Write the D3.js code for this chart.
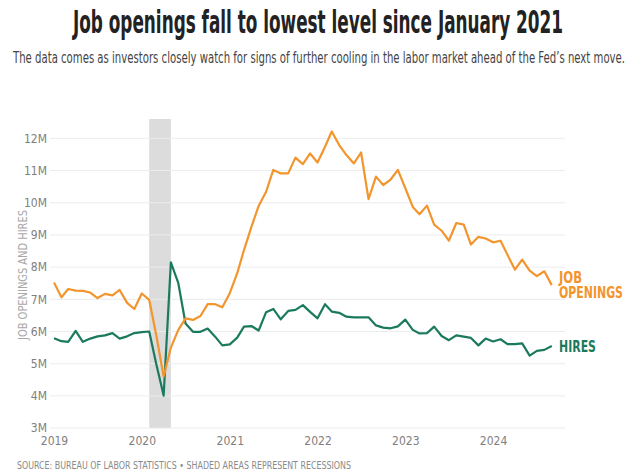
<!DOCTYPE html>
<html>
<head>
<meta charset="utf-8">
<script src="https://cdn.jsdelivr.net/npm/d3@7"></script>
<style>
  html, body { margin: 0; padding: 0; background: #fff; }
  svg { display: block; }
  .narrow { font-family: "Liberation Sans Narrow", "DejaVu Sans Condensed", "Roboto", sans-serif; }
</style>
</head>
<body>
<svg id="chart" width="637" height="474"></svg>
<script>
// Monthly JOLTS series, Jan 2019 – Sep 2024, millions
const startMonth = "2019-01";
const jobOpenings = [
  7.52, 7.06, 7.32, 7.27, 7.26, 7.21, 7.04, 7.17, 7.12, 7.29, 6.89, 6.70,
  7.18, 6.98, 5.90, 4.60, 5.50, 6.05, 6.41, 6.36, 6.48, 6.85, 6.85, 6.75,
  7.19, 7.81, 8.53, 9.25, 9.90, 10.34, 11.02, 10.91, 10.91, 11.40, 11.20, 11.53,
  11.25, 11.74, 12.21, 11.79, 11.48, 11.22, 11.56, 10.11, 10.81, 10.55, 10.72, 11.02,
  10.45, 9.87, 9.64, 9.91, 9.32, 9.13, 8.82, 9.37, 9.32, 8.70, 8.94, 8.89,
  8.77, 8.82, 8.38, 7.92, 8.23, 7.89, 7.72, 7.87, 7.44
];
const hires = [
  5.79, 5.70, 5.68, 6.02, 5.68, 5.78, 5.85, 5.88, 5.95, 5.78, 5.85, 5.95,
  5.98, 6.00, 5.00, 4.01, 8.15, 7.50, 6.25, 5.99, 5.99, 6.09, 5.84, 5.57,
  5.60, 5.81, 6.15, 6.17, 6.03, 6.60, 6.70, 6.38, 6.64, 6.67, 6.82, 6.61,
  6.41, 6.85, 6.62, 6.58, 6.46, 6.44, 6.44, 6.44, 6.19, 6.12, 6.10, 6.16,
  6.37, 6.05, 5.94, 5.95, 6.15, 5.86, 5.73, 5.88, 5.84, 5.80, 5.57, 5.78,
  5.69, 5.76, 5.61, 5.61, 5.63, 5.25, 5.40, 5.43, 5.55
];
const yTicks = [3, 4, 5, 6, 7, 8, 9, 10, 11, 12];
const yearTicks = ["2019", "2020", "2021", "2022", "2023", "2024"];
const recession = { start: "2020-02", end: "2020-04" };

const seriesNames = ["JOB OPENINGS", "HIRES"];
const colors = { openings: "#f3952d", hires: "#1b7a5d" };

const svg = d3.select("#chart");
const parseMonth = d3.utcParse("%Y-%m");
const t0 = parseMonth(startMonth);
const dates = jobOpenings.map((_, i) => d3.utcMonth.offset(t0, i));

// scales
const x = d3.scaleUtc()
  .domain([parseMonth("2019-01"), parseMonth("2025-01")])
  .range([54, 581.1]);
const y = d3.scaleLinear()
  .domain([3, 12.6])
  .range([428.1, 119]);

const gridX0 = 50, gridX1 = 565;

// title + subtitle
svg.append("text")
  .attr("class", "narrow")
  .attr("x", 318).attr("y", 33)
  .attr("text-anchor", "middle")
  .attr("font-size", 32).attr("font-weight", "bold")
  .attr("fill", "#222")
  .attr("textLength", 490).attr("lengthAdjust", "spacingAndGlyphs")
  .text("Job openings fall to lowest level since January 2021");

svg.append("text")
  .attr("class", "narrow")
  .attr("x", 319).attr("y", 63)
  .attr("text-anchor", "middle")
  .attr("font-size", 16)
  .attr("fill", "#444")
  .attr("textLength", 612).attr("lengthAdjust", "spacingAndGlyphs")
  .text("The data comes as investors closely watch for signs of further cooling in the labor market ahead of the Fed\u2019s next move.");

// recession shading
svg.append("rect")
  .attr("x", x(parseMonth(recession.start)))
  .attr("y", y(12.6))
  .attr("width", x(d3.utcMonth.offset(parseMonth(recession.end), 1)) - x(parseMonth(recession.start)))
  .attr("height", y(3) - y(12.6))
  .attr("fill", "#dcdcdc");

// horizontal gridlines
svg.append("g")
  .selectAll("line")
  .data(yTicks)
  .join("line")
  .attr("x1", gridX0).attr("x2", gridX1)
  .attr("y1", d => y(d)).attr("y2", d => y(d))
  .attr("stroke", "#ececec").attr("stroke-width", 1);

// y axis labels
const yAxis = d3.axisLeft(y).tickValues(yTicks).tickFormat(d => d + "M").tickSize(0).tickPadding(0);
svg.append("g")
  .attr("class", "narrow")
  .attr("transform", "translate(47,0)")
  .call(yAxis)
  .call(g => g.select(".domain").remove())
  .call(g => g.selectAll("text")
    .attr("font-family", null)
    .attr("font-size", 12)
    .attr("fill", "#808080"));

// x axis labels
const xAxis = d3.axisBottom(x)
  .tickValues(yearTicks.map(yr => parseMonth(yr + "-01")))
  .tickFormat(d3.utcFormat("%Y"))
  .tickSize(0).tickPadding(0);
svg.append("g")
  .attr("class", "narrow")
  .attr("transform", "translate(0,436)")
  .call(xAxis)
  .call(g => g.select(".domain").remove())
  .call(g => g.selectAll("text")
    .attr("font-family", null)
    .attr("font-size", 12)
    .attr("fill", "#808080"));

// y axis title
svg.append("text")
  .attr("class", "narrow")
  .attr("transform", "translate(27,275) rotate(-90)")
  .attr("text-anchor", "middle")
  .attr("font-size", 11.5)
  .attr("fill", "#a8a8a8")
  .attr("textLength", 130).attr("lengthAdjust", "spacingAndGlyphs")
  .text("JOB OPENINGS AND HIRES");

// lines
const line = d3.line()
  .x((d, i) => x(dates[i]))
  .y(d => y(d));

svg.append("path")
  .datum(hires)
  .attr("d", line)
  .attr("fill", "none")
  .attr("stroke", colors.hires)
  .attr("stroke-width", 2.2)
  .attr("stroke-linejoin", "round");

svg.append("path")
  .datum(jobOpenings)
  .attr("d", line)
  .attr("fill", "none")
  .attr("stroke", colors.openings)
  .attr("stroke-width", 2.2)
  .attr("stroke-linejoin", "round");

// series labels
const labelX = 559;
const lastI = jobOpenings.length - 1;
const [word1, word2] = seriesNames[0].split(" ");
svg.append("text")
  .attr("class", "narrow")
  .attr("x", labelX)
  .attr("y", y(jobOpenings[lastI]) - 2)
  .attr("font-size", 15.5).attr("font-weight", "bold")
  .attr("fill", colors.openings)
  .attr("textLength", 23).attr("lengthAdjust", "spacingAndGlyphs")
  .text(word1);
svg.append("text")
  .attr("class", "narrow")
  .attr("x", labelX)
  .attr("y", y(jobOpenings[lastI]) + 13)
  .attr("font-size", 15.5).attr("font-weight", "bold")
  .attr("fill", colors.openings)
  .attr("textLength", 64).attr("lengthAdjust", "spacingAndGlyphs")
  .text(word2);

svg.append("text")
  .attr("class", "narrow")
  .attr("x", labelX)
  .attr("y", y(hires[lastI]) + 6)
  .attr("font-size", 15.5).attr("font-weight", "bold")
  .attr("fill", colors.hires)
  .attr("textLength", 37).attr("lengthAdjust", "spacingAndGlyphs")
  .text(seriesNames[1]);

// source note
svg.append("text")
  .attr("class", "narrow")
  .attr("x", 17).attr("y", 469)
  .attr("font-size", 10.5)
  .attr("fill", "#8a8a8a")
  .attr("textLength", 334).attr("lengthAdjust", "spacingAndGlyphs")
  .text("SOURCE: BUREAU OF LABOR STATISTICS \u2022 SHADED AREAS REPRESENT RECESSIONS");
</script>
</body>
</html>
